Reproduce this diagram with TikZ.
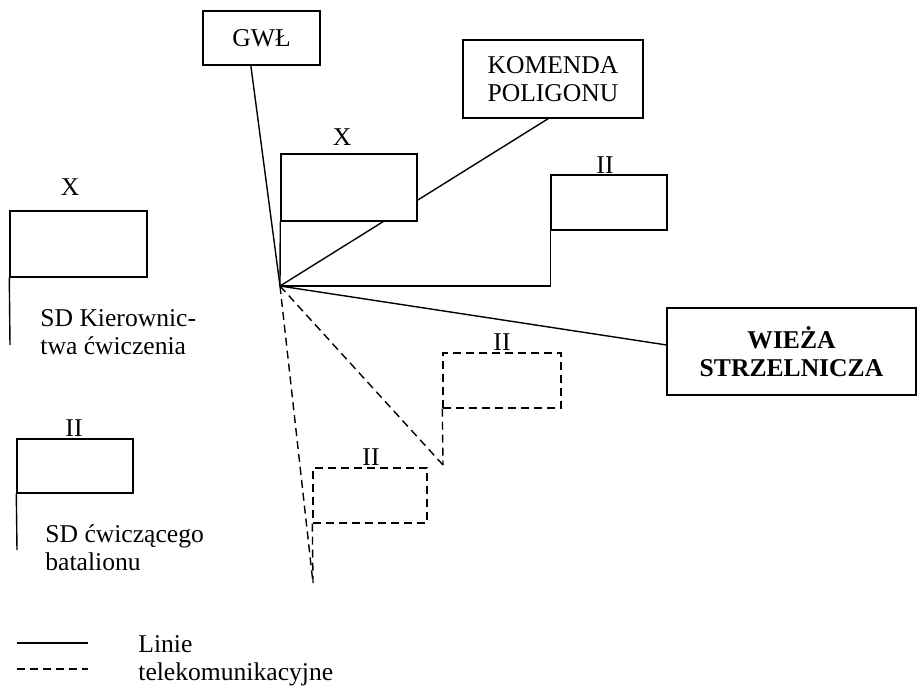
\documentclass[tikz,border=0pt]{standalone}
\usepackage{fontspec}
\setmainfont{Liberation Serif}

\tikzset{
    box/.style = {draw, fill = white, line width = 0.7pt, inner sep = 0pt, align = center},
    dbox/.style = {box, dash pattern = on 4pt off 2.5pt},
    link/.style = {line width = 0.7pt},
    dlink/.style = {link, dash pattern = on 4pt off 2.5pt},
}

\begin{document}
\begin{tikzpicture}[x = 0.5pt, y = -0.5pt, font = \fontsize{12.8}{14}\selectfont]

    \useasboundingbox (0,0) rectangle (918,691);

    \coordinate (hub) at (280,286);

    \node[box, minimum width = 58.5pt, minimum height = 27pt] (gwl) at (261.5,38) {GWŁ};
    \node[box, minimum width = 90pt, minimum height = 39pt] (komenda) at (553,79) {KOMENDA\\POLIGONU};
    \draw[link] (komenda.263) -- (hub);
    \draw[link] (gwl.249) -- (hub);

    \node[box, minimum width = 68pt, minimum height = 33.5pt] (kc) at (349,187.5) {};
    \node (kcx) at (342,137) {X};
    \draw[link] (kc.south west) -- (hub);

    \node[box, minimum width = 58pt, minimum height = 27.5pt] (bat) at (609,202.5) {};
    \node (batii) at (605,165) {II};
    \draw[link] (bat.south west) |- (hub);

    \node[box, minimum width = 124.5pt, minimum height = 43.5pt, font = \fontsize{12.8}{14}\selectfont\bfseries] (wieza) at (791.5,351.5) {WIEŻA\\STRZELNICZA};
    \draw[link] (hub) -- (wieza.177);

    \node[dbox, minimum width = 59pt, minimum height = 27.5pt] (bat1) at (502,380.5) {};
    \node (bat1ii) at (502,342) {II};
    \coordinate (bat1end) at (443,465);
    \draw[dlink] (bat1.south west) -- (bat1end);
    \draw[dlink] (hub) -- (bat1end);

    \node[dbox, minimum width = 57pt, minimum height = 27.5pt] (bat2) at (370,495.5) {};
    \node (bat2ii) at (371,457) {II};
    \coordinate (bat2end) at (313,583);
    \draw[dlink] (bat2.south west) -- (bat2end);
    \draw[dlink] (hub) -- (bat2end);

    \node[box, minimum width = 68.5pt, minimum height = 33pt] (legkc) at (78.5,244) {};
    \node (legkcx) at (70,187) {X};
    \coordinate (legkcend) at (10,345);
    \draw[link] (legkc.south west) -- (legkcend);
    \node[anchor = north west, inner sep = 0pt, align = left] (legkct) at (40,309) {SD Kierownic-\\twa ćwiczenia};

    \node[box, minimum width = 58pt, minimum height = 27pt] (legbat) at (75,466) {};
    \node (legbatii) at (74,428) {II};
    \coordinate (legbatend) at (17,550);
    \draw[link] (legbat.south west) -- (legbatend);
    \node[anchor = north west, inner sep = 0pt, align = left] (legbatt) at (45,524) {SD ćwiczącego\\batalionu};

    \coordinate (ls1) at (17,643);
    \coordinate (ls2) at (88,643);
    \coordinate (ld1) at (17,669);
    \coordinate (ld2) at (88,669);
    \draw[link] (ls1) -- (ls2);
    \draw[dlink] (ld1) -- (ld2);
    \node[anchor = north west, inner sep = 0pt, align = left] (legt) at (138,635) {Linie\\telekomunikacyjne};

\end{tikzpicture}
\end{document}
